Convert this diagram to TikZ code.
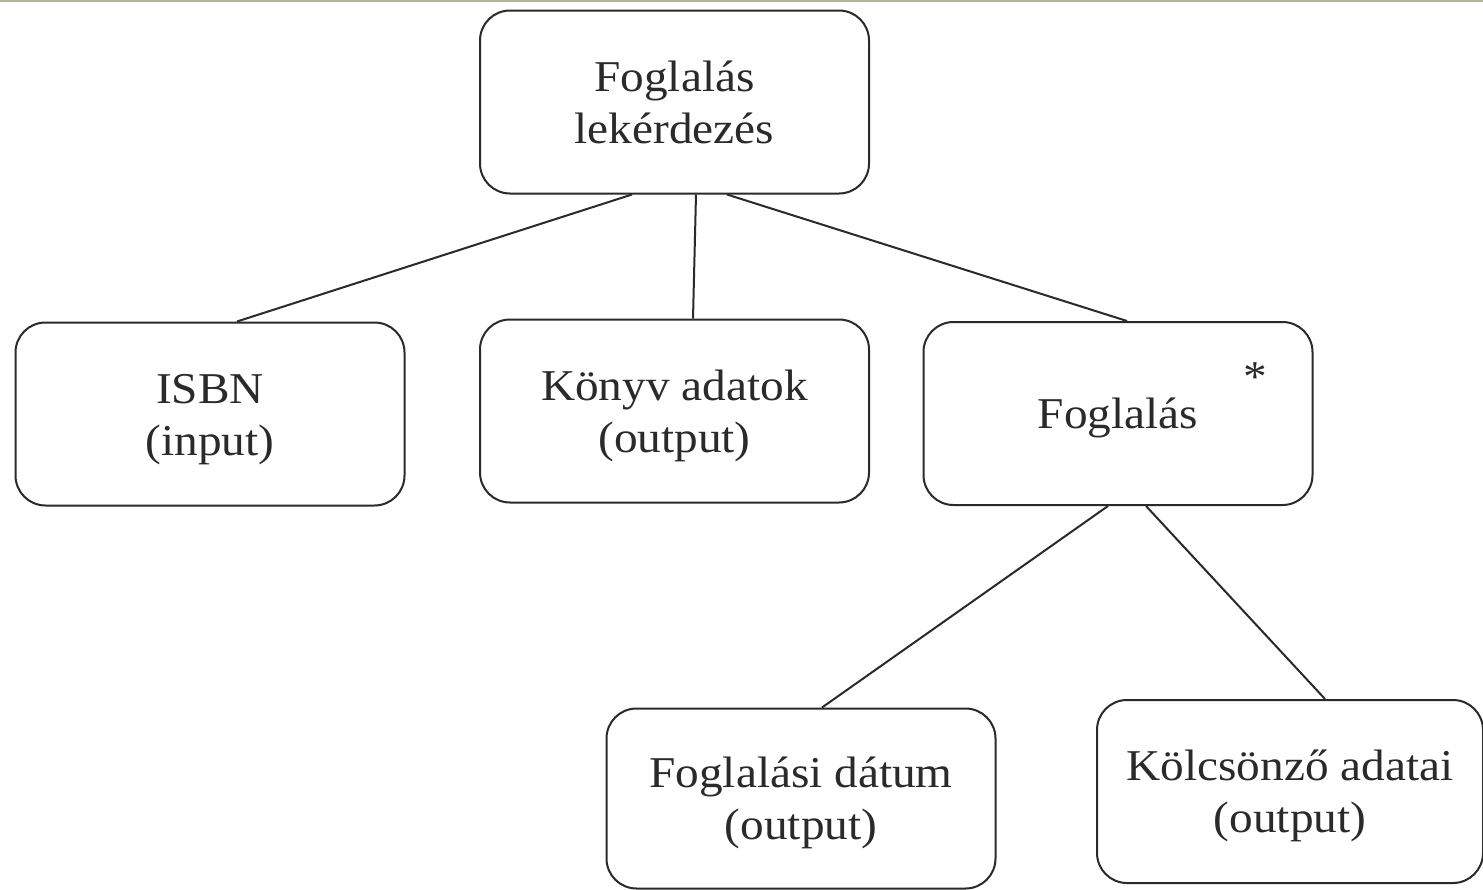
\documentclass[tikz,border=0pt]{standalone}
\usepackage{fontspec}
\setmainfont[FakeStretch=1.075]{Liberation Serif}
\definecolor{ink}{HTML}{2A2A2A}
\definecolor{rule}{HTML}{B4B49A}
% centred text block, set a little below the box centre
\newcommand{\boxtext}[1]{\raisebox{-5pt}[\height][\depth]{\begin{tabular}{@{}c@{}}#1\end{tabular}}}
\begin{document}
\begin{tikzpicture}[x=1pt,y=-1pt,
  box/.style={draw=ink, line width=2pt, rounded corners=30pt, fill=white,
    minimum width=389pt, minimum height=183pt, inner sep=0pt,
    text=ink, font=\fontsize{44}{52}\selectfont},
  link/.style={draw=ink, line width=2pt}]
\useasboundingbox (0,0) rectangle (1483,889);
\fill[white] (0,0) rectangle (1483,889);
\draw[rule, line width=2pt] (0,1) -- (1483,1);

\node[box] (query) at (674.5,102) {\boxtext{Foglalás\\lekérdezés}};
\node[box] (isbn)  at (210,414)   {\boxtext{ISBN\\(input)}};
\node[box] (book)  at (674.5,411) {\boxtext{Könyv adatok\\(output)}};
\node[box] (res)   at (1118,413.5) {\boxtext{Foglalás}};
\node[text=ink, inner sep=0pt, font=\fontsize{44}{44}\selectfont] (star) at (1255,377) {*};
\node[box, minimum height=180pt] (date) at (801,798.5) {\boxtext{Foglalási dátum\\(output)}};
\node[box, minimum width=386pt] (borrower) at (1290,791.5) {\boxtext{Kölcsönző adatai\\(output)}};

\draw[link] ([xshift=-42.5pt]query.south) -- ([xshift=27pt]isbn.north);
\draw[link] ([xshift=21.5pt]query.south) -- ([xshift=18.5pt]book.north);
\draw[link] ([xshift=52.5pt]query.south) -- ([xshift=9pt]res.north);
\draw[link] ([xshift=-10pt]res.south) -- ([xshift=21pt]date.north);
\draw[link] ([xshift=28pt]res.south) -- ([xshift=35pt]borrower.north);
\end{tikzpicture}
\end{document}
